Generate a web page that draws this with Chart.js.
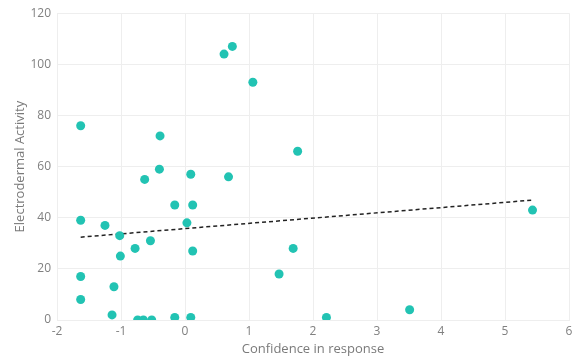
<!DOCTYPE html>
<html>
<head>
<meta charset="utf-8">
<script src="https://cdn.jsdelivr.net/npm/chart.js@4/dist/chart.umd.min.js"></script>
<style>
html,body{margin:0;padding:0;background:#fff;}
#wrap{width:577px;height:360px;position:relative;}
</style>
</head>
<body>
<div id="wrap"><canvas id="c" width="577" height="360"></canvas></div>
<script>
const confidence = [-1.63,-1.63,-1.63,-1.63,-1.25,-1.02,-1.01,-1.11,-1.14,-0.78,-0.74,-0.65,-0.52,-0.54,-0.63,-0.39,-0.40,-0.16,-0.16,0.03,0.09,0.12,0.12,0.09,0.61,0.74,0.68,1.06,1.76,1.69,1.47,2.21,3.51,5.43];
const activity   = [76,39,17,8,37,33,25,13,2,28,0,0,0,31,55,72,59,45,1,38,57,45,27,1,104,107,56,93,66,28,18,1,4,43];
const trendX = [-1.63, 5.43];
const trendY = [32.4, 46.9];
const xTicks = [-2,-1,0,1,2,3,4,5,6];
const yTicks = [0,20,40,60,80,100,120];

const pts = confidence.map((x,i)=>({x:x,y:activity[i]}));
const trend = trendX.map((x,i)=>({x:x,y:trendY[i]}));

new Chart(document.getElementById('c'), {
  type: 'scatter',
  data: {
    datasets: [
      {
        data: trend, type: 'line', showLine: true,
        borderColor: '#222', borderWidth: 1.5, borderDash: [4,3],
        pointRadius: 0, fill: false, order: 2
      },
      {
        data: pts, backgroundColor: '#22C3B3', borderColor: '#22C3B3',
        pointRadius: 4.5, pointHoverRadius: 4.5, borderWidth: 0, order: 1
      }
    ]
  },
  options: {
    responsive: false, animation: false,
    layout: { padding: { left: 0, right: 8, top: 12, bottom: 0 } },
    plugins: { legend: { display: false }, tooltip: { enabled: false } },
    scales: {
      x: {
        type: 'linear', min: -2, max: 6,
        afterBuildTicks: s => { s.ticks = xTicks.map(v=>({value:v})); },
        afterFit: s => { s.height = 40; },
        grid: { color: '#eeeeee', drawTicks: false },
        border: { color: '#eeeeee' },
        ticks: { color: '#808080', font: { family: 'Open Sans', size: 12 }, padding: 4 },
        title: { display: true, text: 'Confidence in response', color: '#7a7a7a',
                 font: { family: 'Open Sans', size: 13 }, padding: { top: 0, bottom: 3 } }
      },
      y: {
        type: 'linear', min: 0, max: 120,
        afterBuildTicks: s => { s.ticks = yTicks.map(v=>({value:v})); },
        afterFit: s => { s.width = 57; },
        grid: { color: '#eeeeee', drawTicks: false },
        border: { color: '#eeeeee' },
        ticks: { color: '#808080', font: { family: 'Open Sans', size: 12 }, padding: 6 },
        title: { display: true, text: 'Electrodermal Activity', color: '#7a7a7a',
                 font: { family: 'Open Sans', size: 13 }, padding: { top: 12, bottom: 0 } }
      }
    }
  }
});
</script>
</body>
</html>
